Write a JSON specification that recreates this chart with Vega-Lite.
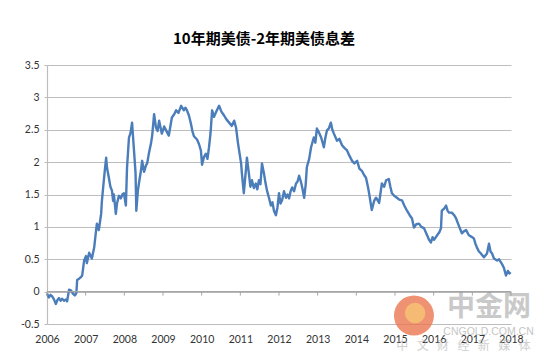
{
  "$schema": "https://vega.github.io/schema/vega-lite/v6.json",
  "width": 464,
  "height": 259,
  "autosize": {"type": "none"},
  "padding": {"left": 47, "top": 65, "right": 39, "bottom": 40},
  "background": "white",
  "config": {
    "view": {"stroke": null},
    "axis": {"labelOverlap": false, "labelFlush": false, "labelFont": "Lato", "labelFontSize": 10.5, "labelColor": "#333333", "title": null},
    "axisX": {"domain": false, "ticks": false, "grid": false, "labelPadding": 10},
    "axisY": {"grid": true, "gridColor": "#BDBDBD", "gridWidth": 1.2, "domain": true, "domainColor": "#BDBDBD", "domainWidth": 1.2, "ticks": true, "tickSize": 3, "tickColor": "#BDBDBD", "labelPadding": 5}
  },
  "title": {
    "text": "10年期美债-2年期美债息差",
    "font": "Noto Sans CJK SC",
    "fontSize": 15,
    "fontWeight": "bold",
    "color": "#000000",
    "anchor": "middle",
    "dx": -15,
    "offset": 13
  },
  "datasets": {
    "years": [
      {"year": 2006}, {"year": 2007}, {"year": 2008}, {"year": 2009}, {"year": 2010}, {"year": 2011}, {"year": 2012},
      {"year": 2013}, {"year": 2014}, {"year": 2015}, {"year": 2016}, {"year": 2017}, {"year": 2018}
    ],
    "spread": [
      {"t": 2006.00, "v": -0.03}, {"t": 2006.05, "v": -0.09}, {"t": 2006.09, "v": -0.05}, {"t": 2006.13, "v": -0.07},
      {"t": 2006.18, "v": -0.12}, {"t": 2006.23, "v": -0.19}, {"t": 2006.27, "v": -0.13}, {"t": 2006.31, "v": -0.10},
      {"t": 2006.35, "v": -0.14}, {"t": 2006.39, "v": -0.11}, {"t": 2006.44, "v": -0.14}, {"t": 2006.49, "v": -0.12},
      {"t": 2006.52, "v": -0.15}, {"t": 2006.57, "v": 0.03}, {"t": 2006.62, "v": 0.02}, {"t": 2006.67, "v": -0.03},
      {"t": 2006.72, "v": -0.06}, {"t": 2006.76, "v": -0.02}, {"t": 2006.78, "v": 0.18}, {"t": 2006.83, "v": 0.20},
      {"t": 2006.87, "v": 0.22}, {"t": 2006.91, "v": 0.25}, {"t": 2006.96, "v": 0.48}, {"t": 2007.01, "v": 0.55},
      {"t": 2007.03, "v": 0.44}, {"t": 2007.09, "v": 0.60}, {"t": 2007.13, "v": 0.55}, {"t": 2007.16, "v": 0.51},
      {"t": 2007.22, "v": 0.68}, {"t": 2007.27, "v": 0.95}, {"t": 2007.29, "v": 1.05}, {"t": 2007.34, "v": 0.95},
      {"t": 2007.40, "v": 1.20}, {"t": 2007.42, "v": 1.40}, {"t": 2007.47, "v": 1.72}, {"t": 2007.50, "v": 1.90},
      {"t": 2007.53, "v": 2.07}, {"t": 2007.55, "v": 1.92}, {"t": 2007.60, "v": 1.76}, {"t": 2007.64, "v": 1.62},
      {"t": 2007.68, "v": 1.56}, {"t": 2007.71, "v": 1.40}, {"t": 2007.73, "v": 1.50}, {"t": 2007.78, "v": 1.20},
      {"t": 2007.81, "v": 1.36}, {"t": 2007.86, "v": 1.48}, {"t": 2007.91, "v": 1.44}, {"t": 2007.95, "v": 1.50},
      {"t": 2007.99, "v": 1.52}, {"t": 2008.04, "v": 1.33}, {"t": 2008.07, "v": 1.92}, {"t": 2008.12, "v": 2.38},
      {"t": 2008.16, "v": 2.45}, {"t": 2008.20, "v": 2.61}, {"t": 2008.25, "v": 2.18}, {"t": 2008.29, "v": 1.83},
      {"t": 2008.31, "v": 1.25}, {"t": 2008.35, "v": 1.56}, {"t": 2008.39, "v": 1.72}, {"t": 2008.43, "v": 1.87},
      {"t": 2008.46, "v": 2.02}, {"t": 2008.51, "v": 1.85}, {"t": 2008.56, "v": 1.95}, {"t": 2008.59, "v": 1.98},
      {"t": 2008.64, "v": 2.15}, {"t": 2008.69, "v": 2.29}, {"t": 2008.72, "v": 2.41}, {"t": 2008.77, "v": 2.74},
      {"t": 2008.82, "v": 2.53}, {"t": 2008.86, "v": 2.48}, {"t": 2008.90, "v": 2.64}, {"t": 2008.97, "v": 2.44},
      {"t": 2009.03, "v": 2.55}, {"t": 2009.08, "v": 2.49}, {"t": 2009.15, "v": 2.41}, {"t": 2009.19, "v": 2.55},
      {"t": 2009.23, "v": 2.69}, {"t": 2009.29, "v": 2.74}, {"t": 2009.34, "v": 2.80}, {"t": 2009.40, "v": 2.76},
      {"t": 2009.47, "v": 2.87}, {"t": 2009.54, "v": 2.80}, {"t": 2009.58, "v": 2.84}, {"t": 2009.62, "v": 2.80},
      {"t": 2009.67, "v": 2.72}, {"t": 2009.72, "v": 2.60}, {"t": 2009.76, "v": 2.48}, {"t": 2009.80, "v": 2.40},
      {"t": 2009.88, "v": 2.35}, {"t": 2009.93, "v": 2.28}, {"t": 2009.98, "v": 2.18}, {"t": 2010.01, "v": 1.96},
      {"t": 2010.06, "v": 2.08}, {"t": 2010.11, "v": 2.13}, {"t": 2010.15, "v": 2.05}, {"t": 2010.19, "v": 2.23},
      {"t": 2010.23, "v": 2.45}, {"t": 2010.27, "v": 2.80}, {"t": 2010.32, "v": 2.70}, {"t": 2010.37, "v": 2.77},
      {"t": 2010.45, "v": 2.87}, {"t": 2010.51, "v": 2.78}, {"t": 2010.58, "v": 2.72}, {"t": 2010.64, "v": 2.66},
      {"t": 2010.71, "v": 2.61}, {"t": 2010.78, "v": 2.56}, {"t": 2010.84, "v": 2.64}, {"t": 2010.89, "v": 2.53},
      {"t": 2010.94, "v": 2.29}, {"t": 2011.02, "v": 1.98}, {"t": 2011.04, "v": 1.83}, {"t": 2011.09, "v": 1.52},
      {"t": 2011.15, "v": 1.92}, {"t": 2011.17, "v": 2.07}, {"t": 2011.22, "v": 1.83}, {"t": 2011.26, "v": 1.62},
      {"t": 2011.30, "v": 1.72}, {"t": 2011.35, "v": 1.60}, {"t": 2011.40, "v": 1.67}, {"t": 2011.44, "v": 1.58},
      {"t": 2011.48, "v": 1.72}, {"t": 2011.52, "v": 1.66}, {"t": 2011.56, "v": 1.98}, {"t": 2011.61, "v": 1.83},
      {"t": 2011.65, "v": 1.68}, {"t": 2011.69, "v": 1.56}, {"t": 2011.74, "v": 1.45}, {"t": 2011.79, "v": 1.33},
      {"t": 2011.83, "v": 1.38}, {"t": 2011.87, "v": 1.25}, {"t": 2011.92, "v": 1.18}, {"t": 2011.96, "v": 1.30},
      {"t": 2012.00, "v": 1.52}, {"t": 2012.04, "v": 1.36}, {"t": 2012.08, "v": 1.41}, {"t": 2012.13, "v": 1.55},
      {"t": 2012.18, "v": 1.45}, {"t": 2012.22, "v": 1.50}, {"t": 2012.26, "v": 1.44}, {"t": 2012.30, "v": 1.55},
      {"t": 2012.34, "v": 1.61}, {"t": 2012.39, "v": 1.55}, {"t": 2012.44, "v": 1.67}, {"t": 2012.48, "v": 1.70},
      {"t": 2012.52, "v": 1.79}, {"t": 2012.57, "v": 1.69}, {"t": 2012.61, "v": 1.58}, {"t": 2012.65, "v": 1.45},
      {"t": 2012.69, "v": 1.65}, {"t": 2012.72, "v": 1.92}, {"t": 2012.78, "v": 2.05}, {"t": 2012.83, "v": 2.23},
      {"t": 2012.90, "v": 2.38}, {"t": 2012.94, "v": 2.30}, {"t": 2012.98, "v": 2.52}, {"t": 2013.04, "v": 2.45},
      {"t": 2013.09, "v": 2.38}, {"t": 2013.16, "v": 2.23}, {"t": 2013.20, "v": 2.38}, {"t": 2013.24, "v": 2.49},
      {"t": 2013.29, "v": 2.52}, {"t": 2013.34, "v": 2.61}, {"t": 2013.38, "v": 2.50}, {"t": 2013.42, "v": 2.44},
      {"t": 2013.50, "v": 2.33}, {"t": 2013.56, "v": 2.36}, {"t": 2013.63, "v": 2.26}, {"t": 2013.69, "v": 2.22},
      {"t": 2013.76, "v": 2.18}, {"t": 2013.82, "v": 2.10}, {"t": 2013.89, "v": 2.02}, {"t": 2013.95, "v": 1.98},
      {"t": 2014.02, "v": 2.02}, {"t": 2014.08, "v": 1.90}, {"t": 2014.15, "v": 1.86}, {"t": 2014.20, "v": 1.80},
      {"t": 2014.25, "v": 1.76}, {"t": 2014.30, "v": 1.62}, {"t": 2014.33, "v": 1.52}, {"t": 2014.40, "v": 1.26},
      {"t": 2014.46, "v": 1.40}, {"t": 2014.51, "v": 1.45}, {"t": 2014.59, "v": 1.37}, {"t": 2014.62, "v": 1.50},
      {"t": 2014.66, "v": 1.67}, {"t": 2014.72, "v": 1.62}, {"t": 2014.77, "v": 1.72}, {"t": 2014.84, "v": 1.74},
      {"t": 2014.88, "v": 1.62}, {"t": 2014.92, "v": 1.52}, {"t": 2014.98, "v": 1.48}, {"t": 2015.05, "v": 1.45},
      {"t": 2015.11, "v": 1.42}, {"t": 2015.18, "v": 1.41}, {"t": 2015.24, "v": 1.33}, {"t": 2015.31, "v": 1.25},
      {"t": 2015.38, "v": 1.18}, {"t": 2015.44, "v": 1.13}, {"t": 2015.49, "v": 0.99}, {"t": 2015.55, "v": 1.04},
      {"t": 2015.62, "v": 1.05}, {"t": 2015.68, "v": 1.00}, {"t": 2015.75, "v": 0.98}, {"t": 2015.83, "v": 0.87},
      {"t": 2015.88, "v": 0.80}, {"t": 2015.93, "v": 0.76}, {"t": 2015.97, "v": 0.84}, {"t": 2016.01, "v": 0.80},
      {"t": 2016.09, "v": 0.87}, {"t": 2016.15, "v": 0.92}, {"t": 2016.19, "v": 0.98}, {"t": 2016.21, "v": 1.25},
      {"t": 2016.27, "v": 1.28}, {"t": 2016.32, "v": 1.33}, {"t": 2016.36, "v": 1.25}, {"t": 2016.40, "v": 1.22},
      {"t": 2016.47, "v": 1.22}, {"t": 2016.53, "v": 1.18}, {"t": 2016.58, "v": 1.13}, {"t": 2016.65, "v": 1.02},
      {"t": 2016.69, "v": 0.96}, {"t": 2016.73, "v": 0.90}, {"t": 2016.78, "v": 0.93}, {"t": 2016.84, "v": 0.95},
      {"t": 2016.91, "v": 0.87}, {"t": 2016.97, "v": 0.85}, {"t": 2017.04, "v": 0.82}, {"t": 2017.08, "v": 0.74},
      {"t": 2017.12, "v": 0.68}, {"t": 2017.17, "v": 0.62}, {"t": 2017.22, "v": 0.59}, {"t": 2017.30, "v": 0.53},
      {"t": 2017.38, "v": 0.59}, {"t": 2017.43, "v": 0.74}, {"t": 2017.47, "v": 0.62}, {"t": 2017.51, "v": 0.59},
      {"t": 2017.56, "v": 0.51}, {"t": 2017.64, "v": 0.48}, {"t": 2017.69, "v": 0.50}, {"t": 2017.74, "v": 0.45},
      {"t": 2017.79, "v": 0.40}, {"t": 2017.82, "v": 0.36}, {"t": 2017.87, "v": 0.25}, {"t": 2017.92, "v": 0.32},
      {"t": 2017.96, "v": 0.28}, {"t": 2017.99, "v": 0.30}
    ]
  },
  "layer": [
    {
      "data": {"name": "spread"},
      "mark": {"type": "line", "color": "#4A7DBA", "strokeWidth": 2.4, "strokeJoin": "round", "clip": false},
      "encoding": {
        "x": {
          "field": "t", "type": "quantitative",
          "scale": {"domain": [2006, 2018], "nice": false, "zero": false},
          "axis": {"values": [2006, 2007, 2008, 2009, 2010, 2011, 2012, 2013, 2014, 2015, 2016, 2017, 2018], "format": "d"}
        },
        "y": {
          "field": "v", "type": "quantitative",
          "scale": {"domain": [-0.5, 3.5], "nice": false, "zero": false},
          "axis": {"values": [-0.5, 0, 0.5, 1, 1.5, 2, 2.5, 3, 3.5], "labelExpr": "datum.value < 0 ? '-' + format(-datum.value, '') : format(datum.value, '')"}
        }
      }
    },
    {
      "data": {"values": [{"label": "zero"}]},
      "mark": {"type": "rule", "color": "#A6A6A6", "strokeWidth": 1.2},
      "encoding": {
        "x": {"datum": 2006, "type": "quantitative", "axis": {"values": [2006, 2007, 2008, 2009, 2010, 2011, 2012, 2013, 2014, 2015, 2016, 2017, 2018], "format": "d"}},
        "x2": {"datum": 2018},
        "y": {"datum": 0, "type": "quantitative", "axis": {"values": [-0.5, 0, 0.5, 1, 1.5, 2, 2.5, 3, 3.5], "labelExpr": "datum.value < 0 ? '-' + format(-datum.value, '') : format(datum.value, '')"}}
      }
    },
    {
      "data": {"name": "years"},
      "mark": {"type": "rule", "color": "#A6A6A6", "strokeWidth": 1},
      "encoding": {
        "x": {"field": "year", "type": "quantitative", "axis": {"values": [2006, 2007, 2008, 2009, 2010, 2011, 2012, 2013, 2014, 2015, 2016, 2017, 2018], "format": "d"}},
        "y": {"datum": 0, "type": "quantitative", "axis": {"values": [-0.5, 0, 0.5, 1, 1.5, 2, 2.5, 3, 3.5], "labelExpr": "datum.value < 0 ? '-' + format(-datum.value, '') : format(datum.value, '')"}},
        "y2": {"datum": -0.062}
      }
    },
    {
      "data": {"values": [{"label": "logo"}]},
      "mark": {"type": "point", "shape": "circle", "filled": true, "color": "#EB7550", "opacity": 0.8, "size": 1600, "clip": false},
      "encoding": {
        "x": {"datum": 2015.49, "type": "quantitative", "axis": {"values": [2006, 2007, 2008, 2009, 2010, 2011, 2012, 2013, 2014, 2015, 2016, 2017, 2018], "format": "d"}},
        "y": {"datum": -0.37, "type": "quantitative", "axis": {"values": [-0.5, 0, 0.5, 1, 1.5, 2, 2.5, 3, 3.5], "labelExpr": "datum.value < 0 ? '-' + format(-datum.value, '') : format(datum.value, '')"}}
      }
    },
    {
      "data": {"values": [{"label": "logo"}]},
      "mark": {"type": "point", "shape": "circle", "filled": true, "color": "#F7C873", "opacity": 0.75, "size": 420, "clip": false},
      "encoding": {
        "x": {"datum": 2015.52, "type": "quantitative", "axis": {"values": [2006, 2007, 2008, 2009, 2010, 2011, 2012, 2013, 2014, 2015, 2016, 2017, 2018], "format": "d"}},
        "y": {"datum": -0.33, "type": "quantitative", "axis": {"values": [-0.5, 0, 0.5, 1, 1.5, 2, 2.5, 3, 3.5], "labelExpr": "datum.value < 0 ? '-' + format(-datum.value, '') : format(datum.value, '')"}}
      }
    },
    {
      "data": {"values": [{"text": "中金网"}]},
      "mark": {"type": "text", "font": "Noto Sans CJK SC", "fontSize": 28, "fontWeight": "bold", "color": "#9E9E9E", "opacity": 0.55, "align": "center", "baseline": "middle", "clip": false},
      "encoding": {
        "x": {"datum": 2017.43, "type": "quantitative", "axis": {"values": [2006, 2007, 2008, 2009, 2010, 2011, 2012, 2013, 2014, 2015, 2016, 2017, 2018], "format": "d"}},
        "y": {"datum": -0.26, "type": "quantitative", "axis": {"values": [-0.5, 0, 0.5, 1, 1.5, 2, 2.5, 3, 3.5], "labelExpr": "datum.value < 0 ? '-' + format(-datum.value, '') : format(datum.value, '')"}},
        "text": {"field": "text"}
      }
    },
    {
      "data": {"values": [{"text": "CNGOLD.COM.CN"}]},
      "mark": {"type": "text", "font": "Liberation Sans", "fontSize": 10.5, "color": "#9E9E9E", "opacity": 0.6, "align": "center", "baseline": "middle", "clip": false},
      "encoding": {
        "x": {"datum": 2017.42, "type": "quantitative", "axis": {"values": [2006, 2007, 2008, 2009, 2010, 2011, 2012, 2013, 2014, 2015, 2016, 2017, 2018], "format": "d"}},
        "y": {"datum": -0.63, "type": "quantitative", "axis": {"values": [-0.5, 0, 0.5, 1, 1.5, 2, 2.5, 3, 3.5], "labelExpr": "datum.value < 0 ? '-' + format(-datum.value, '') : format(datum.value, '')"}},
        "text": {"field": "text"}
      }
    },
    {
      "data": {"values": [{"text": "中\u2002\u2009文\u2002\u2009财\u2002\u2009经\u2002\u2009新\u2002\u2009媒\u2002\u2009体"}]},
      "mark": {"type": "text", "font": "Noto Sans CJK SC", "fontSize": 12, "color": "#B0B0B0", "opacity": 0.6, "align": "center", "baseline": "middle", "clip": false},
      "encoding": {
        "x": {"datum": 2016.77, "type": "quantitative", "axis": {"values": [2006, 2007, 2008, 2009, 2010, 2011, 2012, 2013, 2014, 2015, 2016, 2017, 2018], "format": "d"}},
        "y": {"datum": -0.845, "type": "quantitative", "axis": {"values": [-0.5, 0, 0.5, 1, 1.5, 2, 2.5, 3, 3.5], "labelExpr": "datum.value < 0 ? '-' + format(-datum.value, '') : format(datum.value, '')"}},
        "text": {"field": "text"}
      }
    }
  ]
}
